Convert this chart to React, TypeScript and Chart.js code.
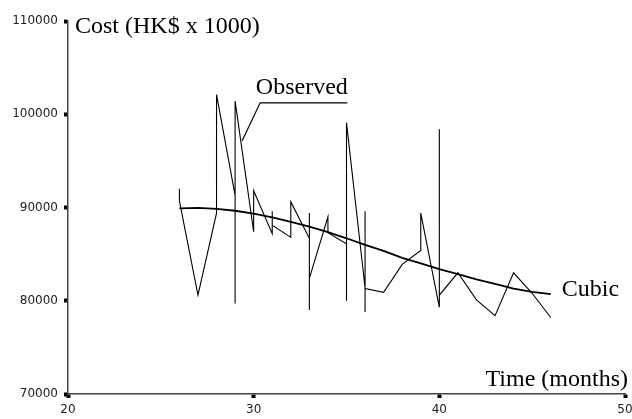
import React, { useEffect, useRef } from "react";
import { Chart, registerables } from "chart.js";
Chart.register(...registerables);

// Observed series (several observations can share a month)
const observedMonths = [26, 26, 27, 28, 28, 29, 29, 29, 30, 30, 31, 31, 31, 32, 32, 33, 33, 33, 33, 34, 34, 35, 35, 35, 36, 36, 36, 36, 37, 38, 39, 39, 40, 40, 40, 41, 42, 43, 44, 45, 46];
const observedCost = [92000, 90700, 80600, 89400, 102100, 91300, 79700, 101400, 87400, 91800, 87200, 89600, 88100, 86800, 90600, 86700, 89400, 79000, 82400, 89000, 87300, 86100, 80000, 99100, 81400, 89600, 78800, 81300, 80900, 83900, 85400, 89400, 79300, 98400, 80600, 83000, 80100, 78400, 83000, 80800, 78200];

// Cubic fit
const cubicMonths = [26, 27, 28, 29, 30, 31, 32, 33, 34, 35, 36, 37, 38, 39, 40, 41, 42, 43, 44, 45, 46];
const cubicCost = [89900, 89950, 89850, 89650, 89350, 88950, 88450, 87950, 87350, 86700, 86000, 85350, 84600, 84000, 83400, 82850, 82300, 81800, 81300, 80950, 80700];

// Leader line of the "Observed" label
const leaderMonths = [35.05, 30.35, 29.38];
const leaderCost = [101230, 101230, 97170];

const xTicks = [20, 30, 40, 50];
const yTicks = [70000, 80000, 90000, 100000, 110000];

const yAxisTitle = "Cost (HK$ x 1000)";
const xAxisTitle = "Time (months)";
const observedLabel = "Observed";
const cubicLabel = "Cubic";

const SERIF = '24px "Liberation Serif", "Times New Roman", serif';
const SANS = "DejaVu Sans";

const textPlugin = {
  id: "textPlugin",
  afterDraw(chart: any) {
    const { ctx, chartArea, scales } = chart;
    const xs = scales.x;
    const ys = scales.y;
    ctx.save();
    ctx.font = SERIF;
    ctx.fillStyle = "#000";
    ctx.textBaseline = "alphabetic";

    ctx.textAlign = "left";
    ctx.fillText(yAxisTitle, chartArea.left + 7, chartArea.top + 12);

    ctx.textAlign = "right";
    ctx.fillText(xAxisTitle, chartArea.right + 3, chartArea.bottom - 8);

    // Observed label above its leader line
    const lx1 = xs.getPixelForValue(leaderMonths[0]);
    const lx2 = xs.getPixelForValue(leaderMonths[1]);
    const ly = ys.getPixelForValue(leaderCost[0]);
    ctx.textAlign = "center";
    ctx.fillText(observedLabel, (lx1 + lx2) / 2 - 2, ly - 9);

    // Cubic label at the end of the curve
    const cx = xs.getPixelForValue(cubicMonths[cubicMonths.length - 1]);
    const cy = ys.getPixelForValue(cubicCost[cubicCost.length - 1]);
    ctx.textAlign = "left";
    ctx.fillText(cubicLabel, cx + 11, cy + 2);
    ctx.restore();
  },
};

export default function App() {
  const ref = useRef<HTMLCanvasElement>(null);

  useEffect(() => {
    if (!ref.current) return;
    const chart = new Chart(ref.current, {
      type: "line",
      data: {
        datasets: [
          {
            label: "Observed",
            data: observedMonths.map((m, i) => ({ x: m, y: observedCost[i] })),
            borderColor: "#000",
            borderWidth: 1.1,
            pointRadius: 0,
            tension: 0,
            fill: false,
          },
          {
            label: "Cubic",
            data: cubicMonths.map((m, i) => ({ x: m, y: cubicCost[i] })),
            borderColor: "#000",
            borderWidth: 1.8,
            pointRadius: 0,
            tension: 0,
            fill: false,
          },
          {
            label: "leader",
            data: leaderMonths.map((m, i) => ({ x: m, y: leaderCost[i] })),
            borderColor: "#000",
            borderWidth: 1.2,
            pointRadius: 0,
            tension: 0,
            fill: false,
          },
        ],
      },
      options: {
        responsive: false,
        animation: false,
        events: [],
        layout: { padding: { top: 21, right: 0, left: 0, bottom: 0 } },
        plugins: {
          legend: { display: false },
          tooltip: { enabled: false },
        },
        scales: {
          x: {
            type: "linear",
            min: 20,
            max: 50,
            afterBuildTicks: (s: any) => {
              s.ticks = xTicks.map((v) => ({ value: v }));
            },
            afterFit: (s: any) => {
              s.height = 25;
              s.paddingRight = 7;
              s.paddingLeft = 0;
            },
            ticks: {
              font: { family: SANS, size: 12 },
              color: "#222",
              padding: 5,
              maxRotation: 0,
              autoSkip: false,
            },
            grid: {
              display: true,
              drawOnChartArea: false,
              drawTicks: true,
              tickLength: 4,
              tickWidth: 4,
              tickColor: "#000",
            },
            border: { display: true, color: "#444", width: 1.5 },
          },
          y: {
            type: "linear",
            min: 70000,
            max: 110000,
            afterBuildTicks: (s: any) => {
              s.ticks = yTicks.map((v) => ({ value: v }));
            },
            afterFit: (s: any) => {
              s.width = 68;
            },
            ticks: {
              font: { family: SANS, size: 12 },
              color: "#222",
              padding: 6,
              autoSkip: false,
              callback: (v: any) => String(v),
            },
            grid: {
              display: true,
              drawOnChartArea: false,
              drawTicks: true,
              tickLength: 4,
              tickWidth: 4,
              tickColor: "#000",
            },
            border: { display: true, color: "#444", width: 1.5 },
          },
        },
      },
      plugins: [textPlugin],
    } as any);
    return () => chart.destroy();
  }, []);

  return (
    <div style={{ position: "absolute", left: 0, top: 0, width: 632, height: 419, background: "#fff" }}>
      <canvas ref={ref} width={632} height={419} style={{ display: "block" }} />
    </div>
  );
}
